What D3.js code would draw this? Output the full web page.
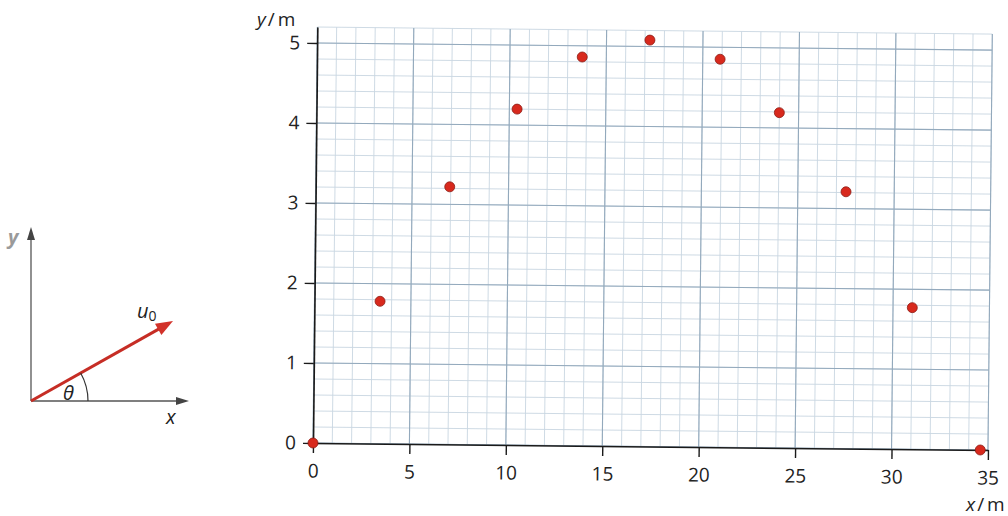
<!DOCTYPE html>
<html>
<head>
<meta charset="utf-8">
<script src="https://cdn.jsdelivr.net/npm/d3@7"></script>
<style>
  html, body { margin: 0; padding: 0; background: #ffffff; }
  svg { display: block; font-family: "Open Sans", "Noto Sans", sans-serif; }
</style>
</head>
<body>
<svg id="chart" width="1008" height="516"></svg>
<script>
// ---- data ----
const xValues = [0, 3.4, 6.95, 10.4, 13.75, 17.25, 20.9, 24.0, 27.5, 31.0, 34.6];
const yValues = [0, 1.78, 3.22, 4.2, 4.86, 5.08, 4.85, 4.19, 3.21, 1.77, 0];
const xTicks = [0, 5, 10, 15, 20, 25, 30, 35];
const yTicks = [0, 1, 2, 3, 4, 5];
const xMinorStep = 1;
const yMinorStep = 0.2;
const xMax = 35;
const yMax = 5.2;

const svg = d3.select("#chart");

// ---- main plot (slightly rotated, like the scanned page) ----
const g = svg.append("g").attr("transform", "translate(313,443) rotate(0.6)");

const x = d3.scaleLinear().domain([0, 35]).range([0, 675]);
const y = d3.scaleLinear().domain([0, 5]).range([0, -400]);

// minor grid
const xMinor = d3.range(0, Math.round(xMax / xMinorStep) + 1).map(i => i * xMinorStep);
const yMinor = d3.range(0, Math.round(yMax / yMinorStep) + 1).map(i => i * yMinorStep);
const grid = g.append("g");
grid.selectAll(".vmin").data(xMinor).join("line")
  .attr("x1", d => x(d)).attr("x2", d => x(d))
  .attr("y1", y(0)).attr("y2", y(yMax))
  .attr("stroke", "#c9d6e1").attr("stroke-width", 0.9);
grid.selectAll(".hmin").data(yMinor).join("line")
  .attr("x1", x(0)).attr("x2", x(xMax))
  .attr("y1", d => y(d)).attr("y2", d => y(d))
  .attr("stroke", "#c9d6e1").attr("stroke-width", 0.9);
// major grid
grid.selectAll(".vmaj").data(xTicks).join("line")
  .attr("x1", d => x(d)).attr("x2", d => x(d))
  .attr("y1", y(0)).attr("y2", y(yMax))
  .attr("stroke", "#93a9bc").attr("stroke-width", 1.1);
grid.selectAll(".hmaj").data(yTicks).join("line")
  .attr("x1", x(0)).attr("x2", x(xMax))
  .attr("y1", d => y(d)).attr("y2", d => y(d))
  .attr("stroke", "#93a9bc").attr("stroke-width", 1.1);

// axes
const xAxis = d3.axisBottom(x).tickValues(xTicks).tickFormat(d3.format("d"))
  .tickSize(10).tickSizeOuter(0).tickPadding(11);
const yAxisScale = d3.scaleLinear().domain([0, yMax]).range([0, y(yMax)]);
const yAxis = d3.axisLeft(yAxisScale).tickValues(yTicks).tickFormat(d3.format("d"))
  .tickSize(10).tickSizeOuter(0).tickPadding(7);

const gx = g.append("g").call(xAxis);
const gy = g.append("g").call(yAxis);
[gx, gy].forEach(a => {
  a.select(".domain").attr("stroke", "#1a1a1a").attr("stroke-width", 1.6);
  a.selectAll(".tick line").attr("stroke", "#1a1a1a").attr("stroke-width", 1.4);
  a.selectAll(".tick text").attr("fill", "#222").style("font-size", "19px")
    .style("font-family", "'Open Sans', 'Noto Sans', sans-serif");
});

// points
g.append("g").selectAll("circle").data(xValues.map((v, i) => [v, yValues[i]])).join("circle")
  .attr("cx", d => x(d[0])).attr("cy", d => y(d[1])).attr("r", 5)
  .attr("fill", "#d8291d").attr("stroke", "#8c1c14").attr("stroke-width", 0.8);

// axis titles
const yt = svg.append("text").attr("x", 257).attr("y", 26).attr("fill", "#222").style("font-size", "19px");
yt.append("tspan").attr("font-style", "italic").text("y");
yt.append("tspan").attr("dx", 2).text("/");
yt.append("tspan").attr("dx", 3).text("m");
const xt = svg.append("text").attr("x", 966).attr("y", 511).attr("fill", "#222").style("font-size", "19px");
xt.append("tspan").attr("font-style", "italic").text("x");
xt.append("tspan").attr("dx", 2).text("/");
xt.append("tspan").attr("dx", 3).text("m");

// ---- left diagram ----
const dg = svg.append("g");
const ox = 31, oy = 401;
dg.append("line").attr("x1", ox).attr("y1", oy).attr("x2", ox).attr("y2", 238)
  .attr("stroke", "#555").attr("stroke-width", 1.3);
dg.append("path").attr("d", `M${ox},227 L${ox - 4},240 L${ox + 4},240 Z`).attr("fill", "#444");
dg.append("line").attr("x1", ox).attr("y1", oy).attr("x2", 178).attr("y2", oy)
  .attr("stroke", "#555").attr("stroke-width", 1.3);
dg.append("path").attr("d", `M189,${oy} L176,${oy - 4} L176,${oy + 4} Z`).attr("fill", "#444");

// red arrow
const tipX = 173, tipY = 321;
const ang = Math.atan2(tipY - oy, tipX - ox);
const hl = 17, hw = 6.5;
const bx = tipX - hl * Math.cos(ang), by = tipY - hl * Math.sin(ang);
dg.append("line").attr("x1", ox).attr("y1", oy).attr("x2", bx + 2 * Math.cos(ang)).attr("y2", by + 2 * Math.sin(ang))
  .attr("stroke", "#c62d25").attr("stroke-width", 3);
dg.append("path")
  .attr("d", `M${tipX},${tipY} L${bx - hw * Math.sin(ang)},${by + hw * Math.cos(ang)} L${bx + hw * Math.sin(ang)},${by - hw * Math.cos(ang)} Z`)
  .attr("fill", "#d2322a");

// angle arc
const r = 57;
const a2 = -ang;
dg.append("path")
  .attr("d", `M${ox + r},${oy} A${r},${r} 0 0 0 ${ox + r * Math.cos(a2)},${oy - r * Math.sin(a2)}`)
  .attr("fill", "none").attr("stroke", "#333").attr("stroke-width", 1.2);

dg.append("text").attr("x", 8).attr("y", 244).attr("fill", "#9a9a9a").attr("font-style", "italic")
  .attr("font-weight", "bold").style("font-size", "20px").text("y");
dg.append("text").attr("x", 166).attr("y", 424).attr("fill", "#222").attr("font-style", "italic")
  .style("font-size", "20px").text("x");
dg.append("text").attr("x", 63).attr("y", 400).attr("fill", "#222").attr("font-style", "italic")
  .style("font-size", "20px").text("θ");
const ut = dg.append("text").attr("x", 137).attr("y", 318).attr("fill", "#222").style("font-size", "20px");
ut.append("tspan").attr("font-style", "italic").text("u");
ut.append("tspan").attr("dy", 3).style("font-size", "14px").text("0");
</script>
</body>
</html>
